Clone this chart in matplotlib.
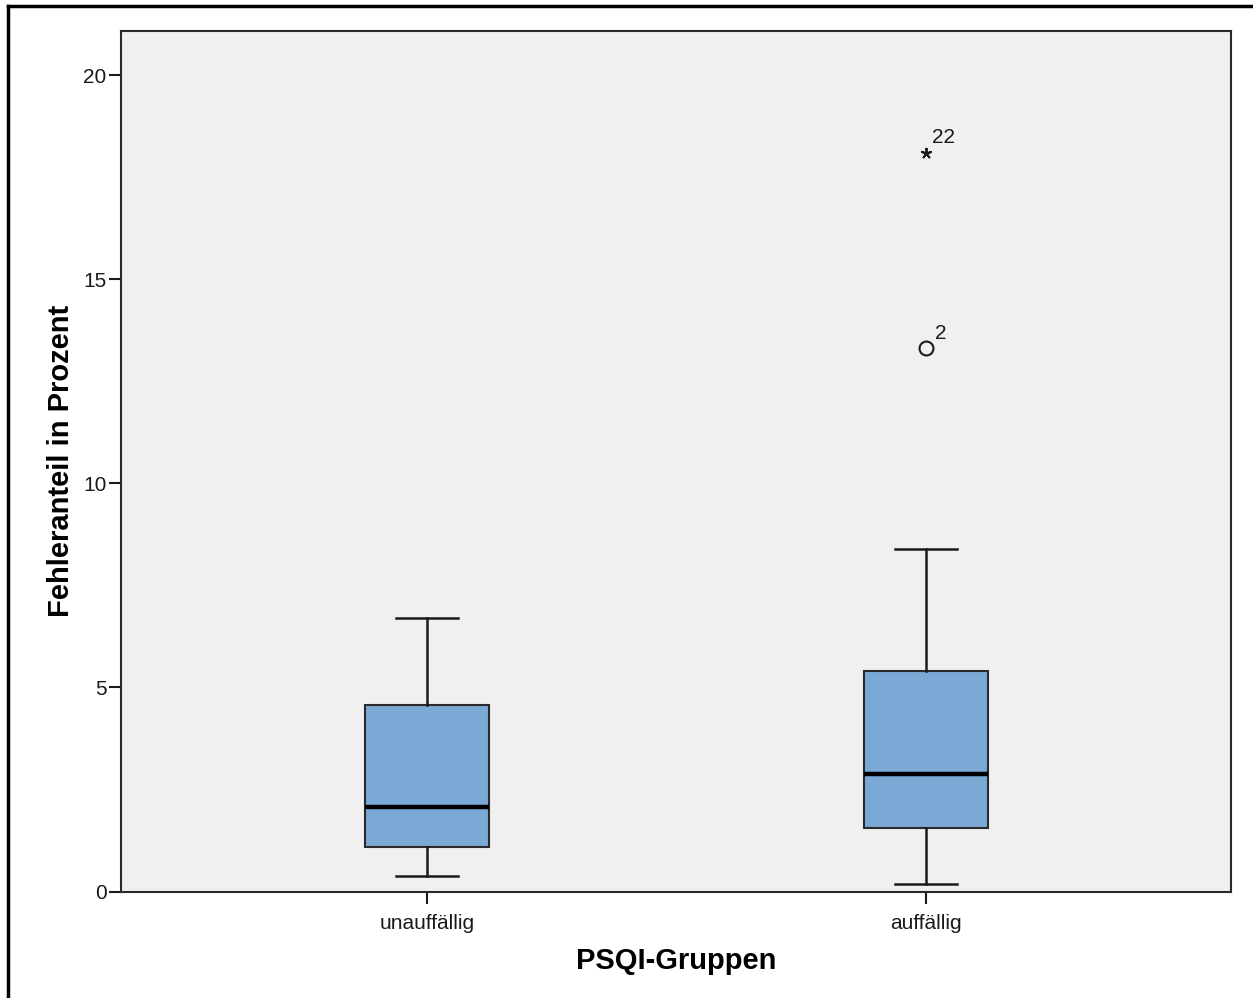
import matplotlib.pyplot as plt
from matplotlib.lines import Line2D

plt.rcParams['font.family'] = ['Liberation Sans', 'DejaVu Sans']

# Boxplot statistics per PSQI group (percent errors)
groups = ['unauffällig', 'auffällig']
whisker_low = [0.38, 0.19]
q1 = [1.10, 1.56]
medians = [2.08, 2.88]
q3 = [4.58, 5.39]
whisker_high = [6.70, 8.39]
outliers = [[], [13.31]]          # mild outliers (circle)
outlier_ids = [[], ['2']]
extremes = [[], [18.10]]          # extreme values (star)
extreme_ids = [[], ['22']]

stats = []
for i, name in enumerate(groups):
    stats.append({
        'label': name, 'whislo': whisker_low[i], 'q1': q1[i], 'med': medians[i],
        'q3': q3[i], 'whishi': whisker_high[i], 'fliers': outliers[i],
    })

fig = plt.figure(figsize=(12.53, 9.98), dpi=100)
ax = fig.add_axes([0.0966, 0.1067, 0.8859, 0.8622])
ax.set_facecolor('#f0f0f0')

positions = [1, 2]
ax.bxp(stats, positions=positions, widths=0.248, patch_artist=True,
       boxprops=dict(facecolor='#7aa9d6', edgecolor='#2a2a2a', linewidth=1.5),
       medianprops=dict(color='black', linewidth=3.2),
       whiskerprops=dict(color='#1a1a1a', linewidth=1.8),
       capprops=dict(color='#1a1a1a', linewidth=1.8),
       capwidths=0.124,
       flierprops=dict(marker='o', markerfacecolor='none', markeredgecolor='#1a1a1a',
                       markersize=10, markeredgewidth=1.5))

for i, pos in enumerate(positions):
    for v, lab in zip(extremes[i], extreme_ids[i]):
        ax.plot(pos, v, marker=(5, 2, 0), color='#1a1a1a', markersize=8,
                markeredgewidth=1.4, linestyle='none')
        ax.annotate(lab, (pos, v), xytext=(4.5, 7), textcoords='offset points',
                    fontsize=15, color='#1a1a1a')
    for v, lab in zip(outliers[i], outlier_ids[i]):
        ax.annotate(lab, (pos, v), xytext=(6.5, 6.5), textcoords='offset points',
                    fontsize=15, color='#1a1a1a')

ax.set_xlim(0.387, 2.611)
ax.set_ylim(0, 21.08)
ax.set_yticks([0, 5, 10, 15, 20])
ax.set_xticks(positions)
ax.set_xticklabels(groups)
ax.tick_params(axis='both', direction='out', length=8.5, width=1.5, color='#1a1a1a',
               labelsize=15, labelcolor='#1a1a1a', pad=2)
ax.tick_params(axis='x', pad=7.5)
for s in ax.spines.values():
    s.set_linewidth(1.5)
    s.set_color('#2a2a2a')

ax.set_ylabel('Fehleranteil in Prozent', fontsize=21, fontweight='bold', labelpad=6)
ax.set_xlabel('PSQI-Gruppen', fontsize=21, fontweight='bold', labelpad=10.5)

# outer frame along the left and top edges
fig.add_artist(Line2D([8 / 1253, 8 / 1253], [0, 1 - 6 / 998], color='black', linewidth=2.5,
                      transform=fig.transFigure))
fig.add_artist(Line2D([8 / 1253, 1], [1 - 6 / 998, 1 - 6 / 998], color='black', linewidth=2.5,
                      transform=fig.transFigure))

fig.savefig('out.png', dpi=100)
